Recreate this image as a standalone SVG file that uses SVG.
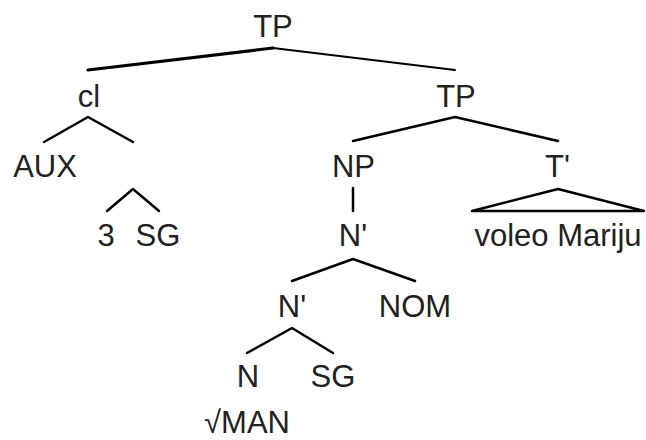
<svg xmlns="http://www.w3.org/2000/svg" width="646" height="440" viewBox="0 0 646 440">
<style>
text{font-family:"Liberation Sans",Arial,sans-serif;font-size:31px;fill:#222;text-anchor:middle}
.e{stroke:#000;stroke-width:2.5;fill:none;stroke-linecap:round;stroke-linejoin:round}
</style>
<rect width="646" height="440" fill="#fff"/>
<g id="connectors">
<path class="e" d="M88 70 L273 48" style="stroke-width:3.2"/>
<path class="e" d="M273 48 L455 70" style="stroke-width:2"/>
<path class="e" d="M44 142 L88 117 L133 142"/>
<path class="e" d="M107 211 L133 189 L159 211"/>
<path class="e" d="M353 141 L455 117 L558 141"/>
<path class="e" d="M353 188 L353 211"/>
<path class="e" d="M472 211 L558 189 L644 211 Z"/>
<path class="e" d="M292 281 L353 259 L415 281"/>
<path class="e" d="M247 353 L292 328 L333 353"/>
</g>
<g id="n_tp_root"><text x="273" y="37">TP</text></g>
<g id="n_cl"><text x="89" y="107">cl</text></g>
<g id="n_tp"><text x="456" y="107">TP</text></g>
<g id="n_aux"><text x="45" y="177">AUX</text></g>
<g id="n_np"><text x="353.5" y="177">NP</text></g>
<g id="n_tbar"><text x="557.5" y="177">T'</text></g>
<g id="n_3"><text x="106" y="246">3</text></g>
<g id="n_sg1"><text x="158" y="246">SG</text></g>
<g id="n_nbar1"><text x="353" y="246">N'</text></g>
<g id="n_voleo"><text x="558" y="246">voleo Mariju</text></g>
<g id="n_nbar2"><text x="292" y="317">N'</text></g>
<g id="n_nom"><text x="415" y="317">NOM</text></g>
<g id="n_n"><text x="248" y="387">N</text></g>
<g id="n_sg2"><text x="333" y="387">SG</text></g>
<g id="n_man"><text x="247" y="433">√MAN</text></g>
</svg>
